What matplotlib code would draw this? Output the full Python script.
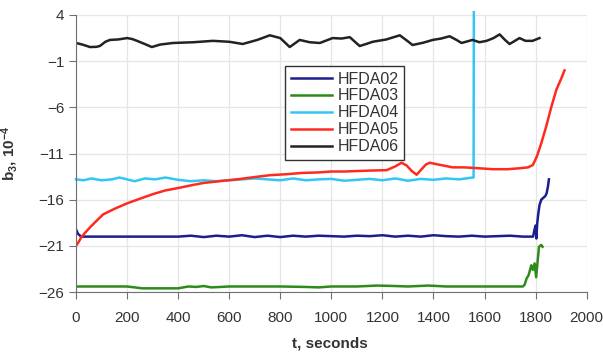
import matplotlib
matplotlib.use("Agg")
import matplotlib.pyplot as plt

plt.rcParams["font.family"] = ["Liberation Sans", "DejaVu Sans"]
plt.rcParams["mathtext.default"] = "regular"

# HFDA02 (navy)
t02 = [0, 8, 20, 40, 100, 200, 300, 400, 450, 500, 550, 600, 650, 700, 750, 800, 850,
       900, 950, 1000, 1050, 1100, 1150, 1200, 1250, 1300, 1350, 1400, 1450, 1500,
       1550, 1600, 1650, 1700, 1750, 1790, 1795, 1800, 1803, 1806, 1810, 1815, 1822,
       1830, 1838, 1843, 1848, 1852]
v02 = [-19.2, -19.7, -20.0, -20.0, -20.0, -20.0, -20.0, -20.0, -19.9, -20.05, -19.9,
       -20.0, -19.85, -20.05, -19.9, -20.05, -19.9, -20.0, -19.9, -19.95, -20.0, -19.9,
       -19.95, -19.85, -20.0, -19.9, -20.0, -19.85, -19.95, -20.0, -19.9, -20.0, -19.95,
       -19.9, -20.0, -20.0, -19.3, -18.8, -20.2, -18.6, -17.6, -16.6, -16.0, -15.8,
       -15.6, -15.3, -14.6, -13.8]

# HFDA03 (green)
t03 = [0, 100, 200, 230, 260, 300, 350, 400, 440, 470, 500, 530, 600, 700, 800, 900,
       950, 1000, 1100, 1180, 1250, 1300, 1380, 1450, 1550, 1650, 1750, 1757, 1765,
       1772, 1783, 1789, 1796, 1802, 1813, 1822, 1827]
v03 = [-25.4, -25.4, -25.4, -25.5, -25.6, -25.6, -25.6, -25.6, -25.4, -25.45, -25.35,
       -25.5, -25.4, -25.4, -25.4, -25.45, -25.5, -25.4, -25.4, -25.3, -25.35, -25.4,
       -25.3, -25.4, -25.4, -25.4, -25.4, -25.2, -24.5, -24.2, -23.1, -23.6, -22.9,
       -24.4, -21.1, -20.9, -21.1]

# HFDA04 (cyan)
t04 = [0, 30, 60, 100, 140, 170, 200, 230, 270, 310, 350, 400, 450, 500, 550, 600, 650,
       700, 750, 800, 850, 900, 950, 1000, 1050, 1100, 1150, 1200, 1250, 1300, 1350,
       1400, 1450, 1500, 1553, 1557, 1558]
v04 = [-13.8, -13.9, -13.7, -13.9, -13.8, -13.6, -13.8, -14.0, -13.7, -13.8, -13.6,
       -13.85, -14.0, -13.9, -14.0, -13.9, -13.8, -13.7, -13.8, -13.9, -13.7, -13.9,
       -13.8, -13.75, -13.95, -13.85, -13.75, -13.9, -13.7, -13.95, -13.75, -13.85,
       -13.7, -13.8, -13.6, -13.6, 4.3]

# HFDA05 (red)
t05 = [0, 10, 20, 35, 55, 80, 106, 150, 200, 250, 301, 350, 407, 450, 497, 560, 630,
       700, 759, 820, 888, 950, 1000, 1050, 1100, 1150, 1217, 1250, 1275, 1295, 1315,
       1334, 1350, 1370, 1385, 1420, 1475, 1520, 1580, 1632, 1690, 1737, 1770, 1789,
       1805, 1822, 1841, 1861, 1881, 1900, 1913]
v05 = [-21.0, -20.6, -20.1, -19.6, -19.0, -18.3, -17.6, -17.0, -16.4, -15.9, -15.4,
       -15.0, -14.7, -14.45, -14.2, -14.0, -13.8, -13.55, -13.35, -13.25, -13.1, -13.05,
       -12.95, -12.95, -12.9, -12.85, -12.8, -12.4, -12.0, -12.3, -12.9, -13.3, -12.8,
       -12.2, -12.0, -12.2, -12.5, -12.5, -12.6, -12.7, -12.7, -12.6, -12.5, -12.25,
       -11.3, -9.9, -8.1, -6.0, -4.1, -2.9, -2.0]

# HFDA06 (black)
t06 = [0, 25, 55, 80, 94, 115, 133, 165, 200, 220, 239, 270, 297, 330, 380, 460, 536,
       600, 653, 710, 759, 800, 837, 876, 915, 955, 1005, 1040, 1072, 1111, 1135, 1162,
       1215, 1268, 1295, 1318, 1360, 1397, 1430, 1463, 1490, 1510, 1553, 1580, 1608,
       1635, 1659, 1680, 1698, 1737, 1760, 1788, 1815]
v06 = [0.97, 0.8, 0.53, 0.55, 0.65, 1.1, 1.3, 1.35, 1.5, 1.4, 1.2, 0.85, 0.53, 0.8,
       0.97, 1.05, 1.2, 1.1, 0.86, 1.3, 1.8, 1.5, 0.53, 1.3, 1.05, 0.97, 1.5, 1.45, 1.6,
       0.64, 0.85, 1.1, 1.35, 1.8, 1.25, 0.75, 1.0, 1.3, 1.45, 1.7, 1.3, 0.97, 1.3, 1.05,
       1.2, 1.5, 1.9, 1.3, 0.86, 1.5, 1.2, 1.2, 1.5]

xticks = list(range(0, 2001, 200))
yticks = [4, -1, -6, -11, -16, -21, -26]

fig = plt.figure(figsize=(6.03, 3.57), dpi=100)
ax = fig.add_axes([0.126, 0.182, 0.847, 0.776])

ax.plot(t02, v02, color="#1a1f8f", lw=1.8, label="HFDA02")
ax.plot(t03, v03, color="#2f8a1c", lw=1.8, label="HFDA03")
ax.plot(t04, v04, color="#33c6f4", lw=1.8, label="HFDA04", clip_on=False)
ax.plot(t05, v05, color="#ff2a1f", lw=1.8, label="HFDA05")
ax.plot(t06, v06, color="#222222", lw=1.8, label="HFDA06")

ax.set_xlim(0, 2000)
ax.set_ylim(-26, 4)
ax.set_xticks(xticks)
ax.set_yticks(yticks)
ax.grid(True, color="#e6e6e6", lw=0.9)
ax.set_axisbelow(True)
for s in ["top", "right"]:
    ax.spines[s].set_visible(False)
for s in ["left", "bottom"]:
    ax.spines[s].set_color("#707070")
ax.tick_params(axis="both", direction="out", length=5, color="#707070",
               labelsize=11, labelcolor="#333333")
ax.tick_params(axis="x", pad=9)

ax.set_xlabel("t, seconds", fontsize=11, fontweight="bold", color="#333333")
ax.xaxis.set_label_coords(0.497, -0.16)
ax.set_ylabel("b$_3$, 10$^{-4}$", fontsize=11, fontweight="bold", color="#333333")
ax.yaxis.set_label_coords(-0.11, 0.5)

leg = ax.legend(loc="upper left", bbox_to_anchor=(0.41, 0.816), fontsize=11.5,
                fancybox=False, edgecolor="#333333", framealpha=1,
                handlelength=2.6, handletextpad=0.3, labelspacing=0.12,
                borderpad=0.35, borderaxespad=0)
leg.get_frame().set_linewidth(1.0)
for txt in leg.get_texts():
    txt.set_color("#333333")

fig.savefig("out.png", dpi=100)
